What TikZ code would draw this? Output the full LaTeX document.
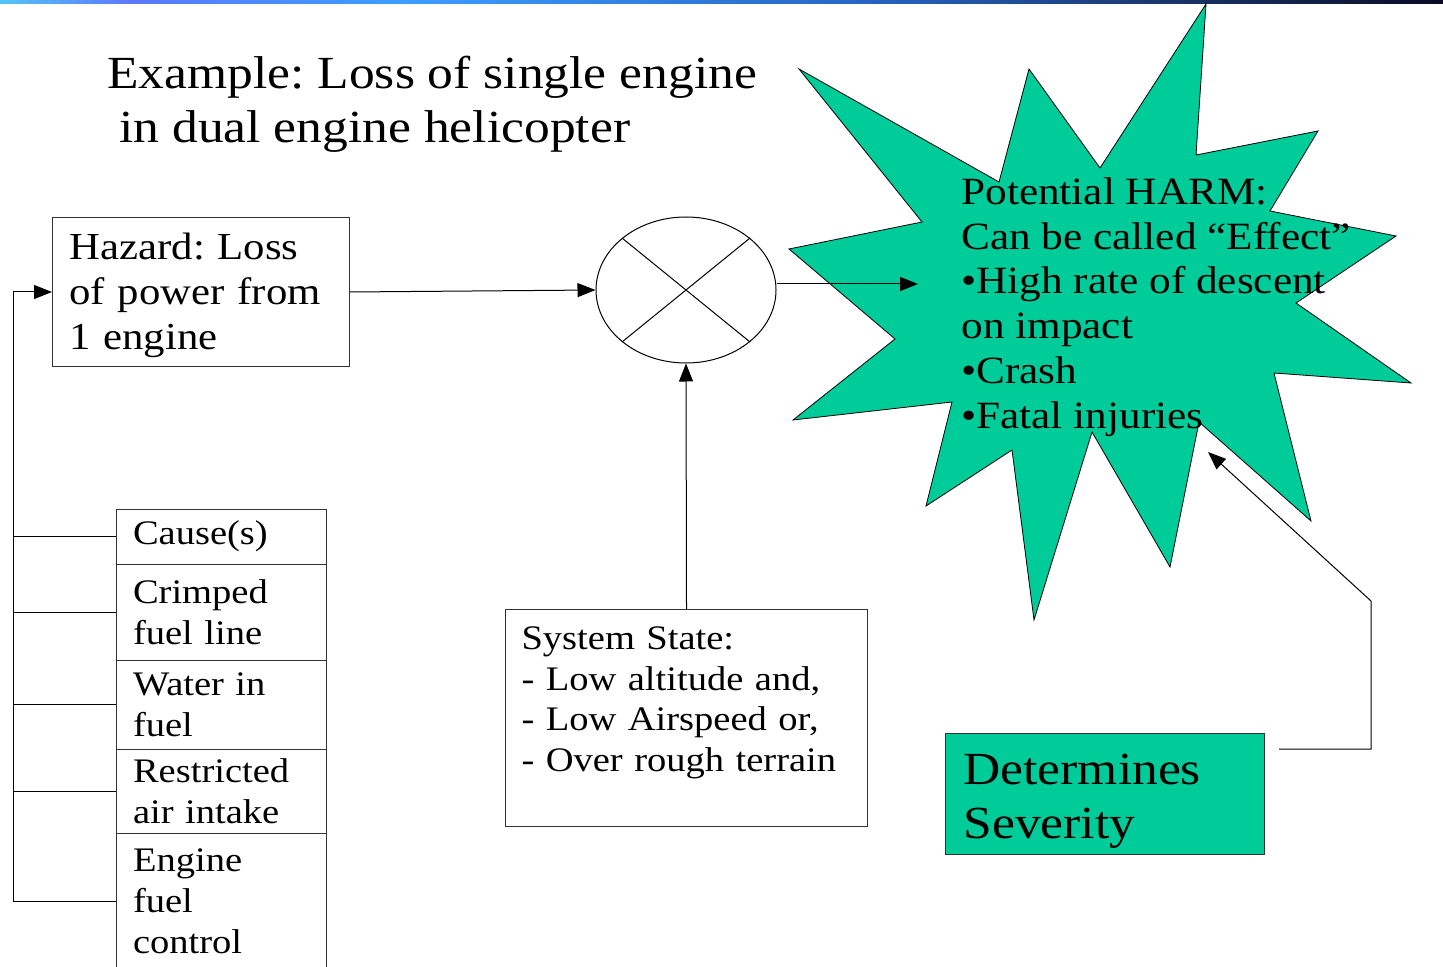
\documentclass[tikz,border=0pt]{standalone}
\usepackage{fontspec}
\setmainfont{Liberation Serif}[FakeStretch=1.12]
\usetikzlibrary{shapes.geometric, positioning, arrows.meta}

\definecolor{harmgreen}{RGB}{0,204,153}
\definecolor{barA}{RGB}{86,196,248}
\definecolor{barB}{RGB}{92,120,250}
\definecolor{barC}{RGB}{60,158,255}
\definecolor{barD}{RGB}{40,100,196}
\definecolor{barE}{RGB}{26,56,110}
\definecolor{barF}{RGB}{10,10,38}
\pgfdeclarehorizontalshading{topbar}{100bp}{color(0bp)=(barA); color(25bp)=(barA); color(29.5bp)=(barB); color(39bp)=(barC); color(55bp)=(barD); color(65bp)=(barE); color(75bp)=(barF); color(100bp)=(barF)}

\frenchspacing
\begin{document}
\begin{tikzpicture}[x=0.5pt, y=-0.5pt, >={Triangle[length=9pt,width=7pt]},
    every node/.style={inner sep=0pt},
    box/.style={draw=black!80, line width=0.5pt, rectangle, align=left, inner xsep=8.5pt},
    cell/.style={box, outer sep=0pt, minimum width=105pt, text width=88pt, font=\fontsize{17.2}{20.5}\selectfont},
    conn/.style={draw=black, line width=0.5pt}]
    \useasboundingbox (0,0) rectangle (1443,967);
    % Kopfleiste
    \shade[shading=topbar] (0,0) rectangle (1443,4);

    % Titel
    \node[anchor=west, align=left, font=\fontsize{23}{27}\selectfont] (title) at (107,104)
        {Example: Loss of single engine\\\hspace*{6pt}in dual engine helicopter};

    % Gefahr und Verknuepfung
    \node[box, anchor=north west, text width=131.5pt, text height=21.2pt, text depth=53.3pt,
        font=\fontsize{19.1}{22.5}\selectfont] (hazard) at (52,217)
        {Hazard: Loss\\of power from\\1 engine};
    \node[draw=black, ellipse, line width=0.5pt, minimum width=90pt, minimum height=73pt] (mult) at (686,290) {};
    \draw[line width=0.5pt] (mult.north west) -- (mult.south east)
        (mult.north east) -- (mult.south west);

    % Stern
    \draw[fill=harmgreen, line width=0.4pt]
        (1206,4) -- (1196,155) -- (1318,131) -- (1270,211) -- (1396,236)
        -- (1296,303) -- (1411,383) -- (1274,373) -- (1311,521) -- (1199,422)
        -- (1170,567) -- (1092,432) -- (1034,620) -- (1012,450) -- (926,506)
        -- (952,402) -- (793,420) -- (895,339) -- (789,249) -- (922,222)
        -- (799,69) -- (999,182) -- (1029,69) -- (1100,168) -- cycle;
    \node[anchor=west, align=left, font=\fontsize{19.3}{22.35}\selectfont] (harm) at (961,307)
        {Potential HARM:\\Can be called ``Effect''\\•High rate of descent\\on impact\\•Crash\\•Fatal injuries};

    % Systemzustand
    \node[box, anchor=north west, text width=165pt, inner xsep=8pt, inner ysep=4pt,
        text height=16pt, text depth=84.5pt, font=\fontsize{17.2}{20.25}\selectfont] (state) at (505,609)
        {System State:\\- Low altitude and,\\- Low Airspeed or,\\- Over rough terrain};

    % Schweregrad
    \node[box, fill=harmgreen, anchor=north west, text width=141.5pt, inner xsep=9pt,
        text height=25.5pt, text depth=35pt, font=\fontsize{23}{27}\selectfont] (sev) at (945,733)
        {Determines\\Severity};

    % Ursachen
    \node[cell, anchor=north west, minimum height=27.5pt] (cause) at (116,509) {Cause(s)};
    \node[cell, minimum height=48pt, below=0pt of cause] (crimped) {Crimped\\fuel line};
    \node[cell, minimum height=44.5pt, below=0pt of crimped] (water) {Water in\\fuel};
    \node[cell, minimum height=42pt, below=0pt of water] (intake) {Restricted\\air intake};
    \node[cell, minimum height=68pt, below=0pt of intake] (fuelctl) {Engine\\fuel\\control};

    % Verbindungen
    \coordinate (harmin) at (918,284);
    \coordinate (harmsev) at (1208,452);
    \coordinate (fbk) at (13,0);
    \coordinate (sevout) at ([xshift=7pt,yshift=-8pt]sev.north east);

    \draw[conn, ->] (hazard.east) -- (mult.west);
    \draw[conn, ->] (mult.east |- harmin) -- (harmin);
    \draw[conn, ->] (state.north) -- (mult.south);
    \draw[conn, ->] (sevout) -- ++(92,0) -- ++(0,-148) -- (harmsev);
    \draw[conn, ->] (fuelctl.west) -- (fuelctl.west -| fbk) |- (hazard.west);
    \foreach \c in {cause,crimped,water,intake}
        \draw[conn] (\c.west) -- (\c.west -| fbk);
\end{tikzpicture}
\end{document}
